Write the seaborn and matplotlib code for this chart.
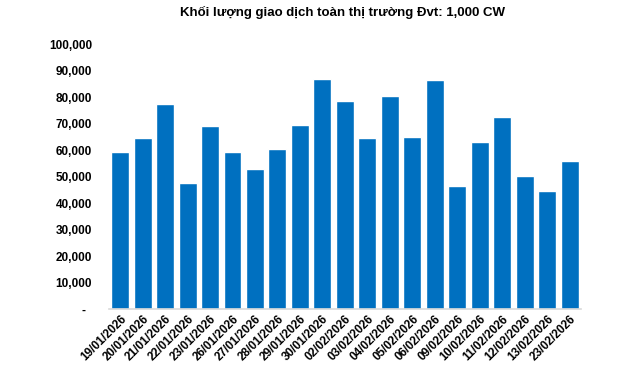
import matplotlib
matplotlib.use("Agg")
import matplotlib.pyplot as plt
import seaborn as sns
import pandas as pd
from matplotlib.ticker import FuncFormatter

dates = ["19/01/2026", "20/01/2026", "21/01/2026", "22/01/2026", "23/01/2026",
         "26/01/2026", "27/01/2026", "28/01/2026", "29/01/2026", "30/01/2026",
         "02/02/2026", "03/02/2026", "04/02/2026", "05/02/2026", "06/02/2026",
         "09/02/2026", "10/02/2026", "11/02/2026", "12/02/2026", "13/02/2026",
         "23/02/2026"]
volumes = [59200, 64500, 77400, 47500, 69000,
           59200, 52800, 60400, 69400, 86800,
           78500, 64500, 80400, 64900, 86400,
           46400, 63000, 72500, 50200, 44500,
           55800]
title = "Khối lượng giao dịch toàn thị trường Đvt: 1,000 CW"

sns.set_theme(style="white")
plt.rcParams['font.family'] = ['Liberation Sans', 'DejaVu Sans']

df = pd.DataFrame({"date": dates, "volume": volumes})

fig = plt.figure(figsize=(6.4, 3.71), dpi=100)
ax = fig.add_axes([0.170, 0.167, 0.738, 0.714])
sns.barplot(data=df, x="date", y="volume", color="#0070C0", saturation=1,
            width=0.8, ax=ax)

ax.set_ylim(0, 100000)
ax.set_yticks(range(0, 100001, 10000))
ax.yaxis.set_major_formatter(FuncFormatter(lambda v, p: "-  " if v == 0 else f"{int(v):,}"))
ax.set_xlim(-0.5, len(dates) - 0.5)
ax.set_xlabel("")
ax.set_ylabel("")
for s in ["top", "right", "left"]:
    ax.spines[s].set_visible(False)
ax.spines["bottom"].set_color("#D9D9D9")
ax.spines["bottom"].set_linewidth(1.2)
ax.tick_params(axis="both", length=0)
ax.tick_params(axis="y", pad=12)
ax.tick_params(axis="x", pad=3)
for lbl in ax.get_yticklabels():
    lbl.set_fontsize(8.5)
    lbl.set_fontweight("bold")
    lbl.set_color("#000000")
for lbl in ax.get_xticklabels():
    lbl.set_fontsize(8.5)
    lbl.set_fontweight("bold")
    lbl.set_rotation(45)
    lbl.set_ha("right")
    lbl.set_rotation_mode("anchor")
    lbl.set_color("#000000")

fig.text(0.535, 0.965, title, ha="center", va="center", fontsize=9.5,
         fontweight="bold", color="#000000")

fig.savefig("out.png", dpi=100, facecolor="white")
